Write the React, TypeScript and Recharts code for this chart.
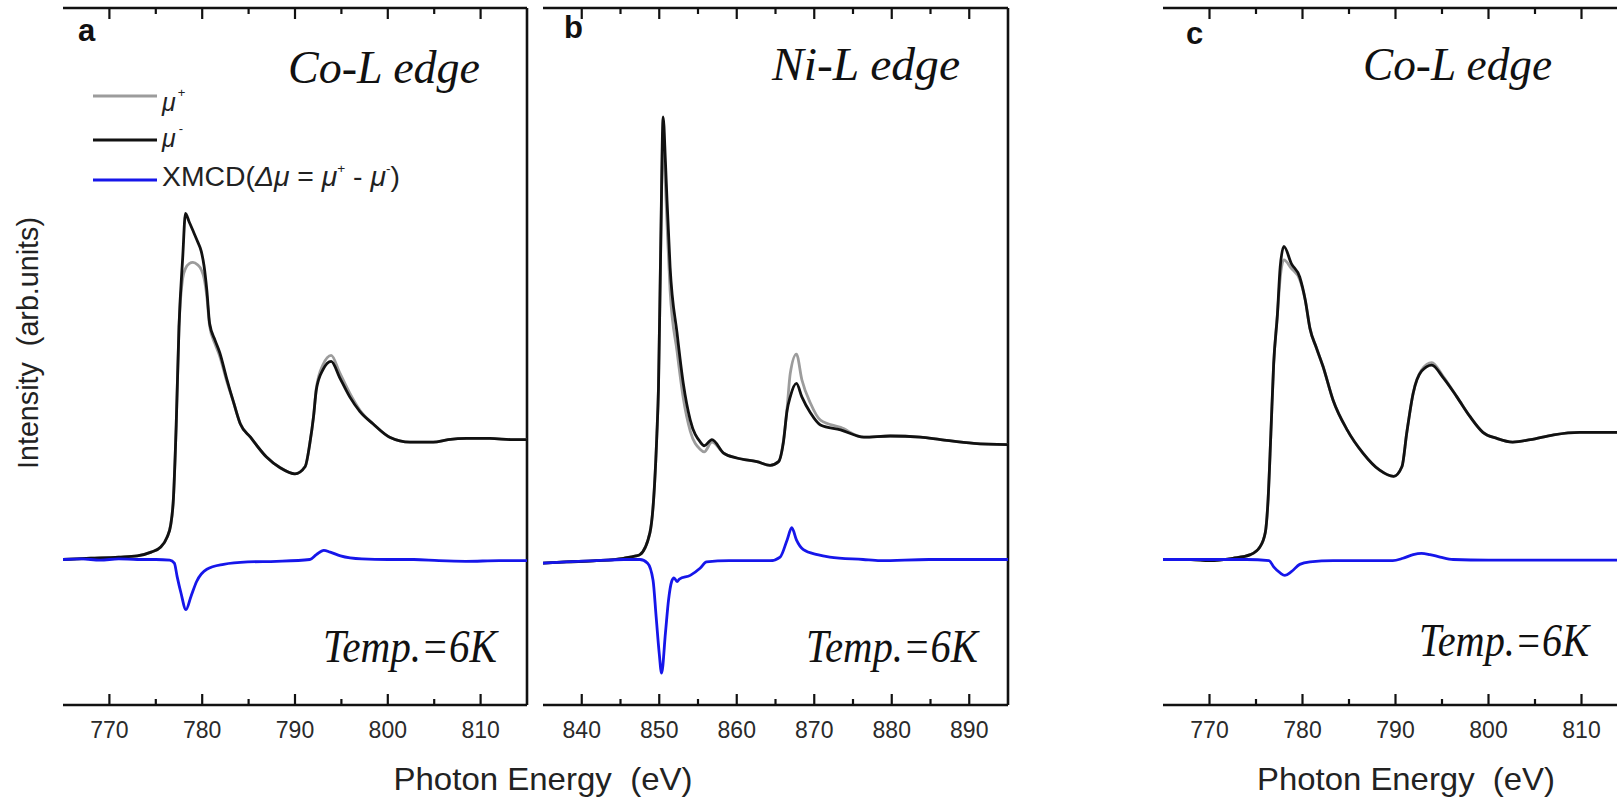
import React from "react";
import { LineChart, Line, XAxis, YAxis, ReferenceLine } from "recharts";

// panel a: Co L-edge, 6 K
const aEnergy = [765, 768, 771, 773, 774.5, 775.5, 776.2, 776.6, 776.9, 777.2, 777.5, 777.9, 778.2, 778.6, 779.0, 779.5, 779.9, 780.2, 780.5, 780.8, 781.4, 781.9, 782.6, 783.4, 784.1, 785.2, 786.9, 788.4, 790.0, 791.1, 791.6, 792.0, 792.3, 793.0, 793.9, 794.8, 795.9, 797.0, 798.4, 800.2, 802.4, 804.9, 806.5, 808.5, 811.0, 813.5, 815];
const aMuMinus = [1.0, 1.01, 1.02, 1.03, 1.06, 1.1, 1.18, 1.28, 1.5, 2.1, 2.9, 3.47, 3.83, 3.76, 3.69, 3.6, 3.52, 3.4, 3.2, 2.93, 2.79, 2.69, 2.49, 2.28, 2.11, 2.0, 1.84, 1.75, 1.7, 1.76, 1.95, 2.17, 2.39, 2.55, 2.62, 2.49, 2.33, 2.21, 2.11, 2.0, 1.96, 1.96, 1.98, 1.99, 1.99, 1.98, 1.98];
const aMuPlus = [1.0, 1.01, 1.02, 1.03, 1.06, 1.1, 1.18, 1.28, 1.5, 2.1, 2.9, 3.3, 3.38, 3.42, 3.43, 3.41, 3.37, 3.3, 3.15, 2.91, 2.76, 2.66, 2.47, 2.28, 2.11, 2.0, 1.84, 1.75, 1.7, 1.76, 1.95, 2.17, 2.4, 2.59, 2.67, 2.53, 2.36, 2.22, 2.11, 2.0, 1.96, 1.96, 1.98, 1.99, 1.99, 1.98, 1.98];
const aXmcdEnergy = [765, 767, 769, 771, 773, 775, 776.5, 777.0, 777.3, 777.7, 778.25, 778.8, 779.4, 780.5, 782.3, 784.9, 788, 791.6, 792.3, 793.1, 793.8, 794.9, 797.2, 800, 802.8, 805.5, 808.4, 812, 815];
const aXmcd = [1.0, 1.005, 0.995, 1.005, 1.0, 1.0, 0.995, 0.97, 0.86, 0.73, 0.59, 0.7, 0.82, 0.92, 0.96, 0.98, 0.985, 1.0, 1.04, 1.075, 1.06, 1.03, 1.005, 1.0, 1.0, 0.99, 0.985, 0.99, 0.99];

// panel b: Ni L-edge, 6 K
const bEnergy = [835, 838, 841.9, 845.4, 847.0, 847.5, 848.8, 849.4, 849.7, 849.9, 850.2, 850.5, 850.8, 851.0, 851.4, 852.3, 853.1, 854.0, 855.3, 855.8, 856.8, 858.3, 860.0, 862.6, 864.3, 865.4, 866.0, 866.5, 866.9, 867.7, 868.4, 869.5, 870.8, 873.4, 876.4, 879.8, 883.7, 886.3, 890.6, 895];
const bMuMinus = [0.97, 0.98, 0.99, 1.01, 1.03, 1.04, 1.22, 1.62, 2.03, 2.4, 3.6, 4.62, 4.25, 3.94, 3.39, 2.85, 2.44, 2.14, 1.96, 1.93, 1.98, 1.87, 1.83, 1.8, 1.77, 1.8, 1.95, 2.22, 2.33, 2.44, 2.33, 2.2, 2.1, 2.06, 2.0, 2.01, 2.0, 1.98, 1.95, 1.94];
const bMuPlus = [0.97, 0.98, 0.99, 1.01, 1.03, 1.04, 1.22, 1.62, 2.03, 2.4, 3.6, 4.5, 4.05, 3.75, 3.2, 2.7, 2.32, 2.05, 1.9, 1.88, 1.96, 1.87, 1.83, 1.8, 1.77, 1.8, 1.96, 2.24, 2.52, 2.68, 2.47, 2.28, 2.14, 2.08, 2.0, 2.01, 2.0, 1.98, 1.95, 1.94];
const bXmcdEnergy = [835, 838, 841.9, 845.4, 847.5, 848.5, 849.2, 849.6, 850.0, 850.3, 850.8, 851.2, 851.6, 851.9, 852.3, 852.6, 854.0, 855.3, 856.1, 859.0, 862, 864.3, 865.6, 866.5, 867.1, 867.7, 868.6, 870.4, 872.0, 876.3, 878.5, 884.8, 889, 895];
const bXmcd = [0.97, 0.98, 0.99, 1.0, 1.0, 0.97, 0.83, 0.53, 0.23, 0.07, 0.4, 0.67, 0.82, 0.85, 0.82, 0.84, 0.87, 0.93, 0.98, 0.99, 0.99, 0.99, 1.02, 1.16, 1.26, 1.16, 1.08, 1.04, 1.02, 1.0, 0.99, 1.0, 1.0, 1.0];

// panel c: Co L-edge, 6 K
const cEnergy = [765, 768, 770, 772.5, 774.4, 775.4, 776.0, 776.3, 776.6, 776.9, 777.3, 777.6, 778.0, 778.8, 779.7, 780.3, 780.8, 781.5, 782.2, 783.3, 784.8, 786.5, 788.3, 789.8, 790.7, 791.2, 791.9, 792.8, 793.9, 795.1, 796.6, 798.0, 799.4, 800.9, 802.6, 804.5, 807.0, 809.8, 811.6, 813.8, 815];
const cMuMinus = [1.0, 1.0, 0.99, 1.01, 1.04, 1.1, 1.22, 1.49, 2.03, 2.6, 3.0, 3.39, 3.56, 3.42, 3.31, 3.12, 2.89, 2.73, 2.58, 2.3, 2.06, 1.87, 1.73, 1.68, 1.76, 2.03, 2.36, 2.54, 2.59, 2.49, 2.33, 2.17, 2.04, 1.99, 1.96, 1.98, 2.02, 2.04, 2.04, 2.04, 2.04];
const cMuPlus = [1.0, 1.0, 0.99, 1.01, 1.04, 1.1, 1.22, 1.49, 2.03, 2.6, 3.0, 3.3, 3.45, 3.38, 3.29, 3.12, 2.89, 2.73, 2.58, 2.3, 2.06, 1.87, 1.73, 1.68, 1.76, 2.03, 2.36, 2.55, 2.61, 2.5, 2.33, 2.17, 2.04, 1.99, 1.96, 1.98, 2.02, 2.04, 2.04, 2.04, 2.04];
const cXmcdEnergy = [765, 770, 774, 776.4, 776.9, 777.6, 778.1, 778.8, 779.7, 780.8, 783.3, 786, 789.7, 790.8, 791.9, 792.8, 793.7, 794.8, 796.2, 800, 805, 810, 815];
const cXmcd = [1.0, 1.0, 1.0, 0.99, 0.94, 0.89, 0.87, 0.9, 0.96, 0.98, 0.99, 0.99, 0.99, 1.01, 1.04, 1.05, 1.04, 1.02, 1.0, 0.995, 0.995, 0.995, 0.995];

const coTicks = [770, 775, 780, 785, 790, 795, 800, 805, 810];
const niTicks = [840, 845, 850, 855, 860, 865, 870, 875, 880, 885, 890];
const yTicks = [0, 1, 2, 3, 4, 5];
const yDomain: [number, number] = [-0.19, 5.51];

const PLOT_TOP = 8;
const PLOT_H = 697;
const AXIS = "#111";
const GRAY = "#9c9c9c";
const BLUE = "#1616ea";
const SANS = "'Liberation Sans', Arial, sans-serif";
const SERIF = "'Liberation Serif', 'Times New Roman', serif";

const zip = (xs: number[], ys: number[]) => xs.map((e, i) => ({ e, v: ys[i] }));

function XTick(props: any) {
  const { x, y, payload } = props;
  const major = payload.value % 10 === 0;
  const len = major ? 11 : 6;
  const top = y - PLOT_H;
  return (
    <g>
      <line x1={x} x2={x} y1={y} y2={y - len} stroke={AXIS} strokeWidth={2.2} />
      <line x1={x} x2={x} y1={top} y2={top + len} stroke={AXIS} strokeWidth={2.2} />
      {major && (
        <text x={x} y={y + 33} textAnchor="middle" fontSize={23} fontFamily={SANS} fill="#2a2a2a">
          {payload.value}
        </text>
      )}
    </g>
  );
}

function YTick(props: any) {
  const { x, y, plotW } = props;
  return (
    <g>
      <line x1={x} x2={x + 11} y1={y} y2={y} stroke={AXIS} strokeWidth={2.2} />
      <line x1={x + plotW} x2={x + plotW - 11} y1={y} y2={y} stroke={AXIS} strokeWidth={2.2} />
    </g>
  );
}

interface PanelProps {
  left: number;
  plotW: number;
  domain: [number, number];
  ticks: number[];
  muPlus: { e: number; v: number }[];
  muMinus: { e: number; v: number }[];
  xmcd: { e: number; v: number }[];
}

function Panel({ left, plotW, domain, ticks, muPlus, muMinus, xmcd }: PanelProps) {
  return (
    <div style={{ position: "absolute", left: left - 10, top: 0 }}>
      <LineChart
        width={plotW + 20}
        height={801}
        margin={{ top: PLOT_TOP, right: 10, bottom: 36, left: 10 }}
      >
        <XAxis
          type="number"
          dataKey="e"
          domain={domain}
          ticks={ticks}
          interval={0}
          allowDataOverflow
          height={60}
          tickSize={0}
          tickMargin={0}
          tickLine={false}
          axisLine={{ stroke: AXIS, strokeWidth: 2.6 }}
          tick={(p: any) => <XTick {...p} />}
        />
        <YAxis
          type="number"
          domain={yDomain}
          ticks={yTicks}
          interval={0}
          allowDataOverflow
          width={0}
          tickSize={0}
          tickMargin={0}
          tickLine={false}
          axisLine={{ stroke: AXIS, strokeWidth: 2.6 }}
          tick={(p: any) => <YTick {...p} plotW={plotW} />}
        />
        <ReferenceLine y={yDomain[1]} stroke={AXIS} strokeWidth={2.6} />
        <ReferenceLine x={domain[1]} stroke={AXIS} strokeWidth={2.6} />
        <Line data={muPlus} dataKey="v" type="monotone" stroke={GRAY} strokeWidth={2.8} dot={false} isAnimationActive={false} />
        <Line data={muMinus} dataKey="v" type="monotone" stroke="#111" strokeWidth={2.8} dot={false} isAnimationActive={false} />
        <Line data={xmcd} dataKey="v" type="monotone" stroke={BLUE} strokeWidth={2.8} dot={false} isAnimationActive={false} />
      </LineChart>
    </div>
  );
}

const pre = { whiteSpace: "pre" as const };

export default function App() {
  return (
    <div
      style={{
        position: "absolute",
        left: 0,
        top: 0,
        width: 1617,
        height: 801,
        overflow: "hidden",
        background: "#fff",
      }}
    >
      <Panel left={63} plotW={464} domain={[765, 815]} ticks={coTicks}
        muPlus={zip(aEnergy, aMuPlus)} muMinus={zip(aEnergy, aMuMinus)} xmcd={zip(aXmcdEnergy, aXmcd)} />
      <Panel left={543} plotW={465} domain={[835, 895]} ticks={niTicks}
        muPlus={zip(bEnergy, bMuPlus)} muMinus={zip(bEnergy, bMuMinus)} xmcd={zip(bXmcdEnergy, bXmcd)} />
      <Panel left={1163} plotW={465} domain={[765, 815]} ticks={coTicks}
        muPlus={zip(cEnergy, cMuPlus)} muMinus={zip(cEnergy, cMuMinus)} xmcd={zip(cXmcdEnergy, cXmcd)} />

      <svg width={1617} height={801} style={{ position: "absolute", left: 0, top: 0, pointerEvents: "none" }}>
        {/* panel letters */}
        <g fontFamily={SANS} fontWeight="bold" fontSize={31} fill="#111">
          <text x={78} y={41}>a</text>
          <text x={564} y={38}>b</text>
          <text x={1186} y={44}>c</text>
        </g>

        {/* edge labels and temperature */}
        <g fontFamily={SERIF} fontStyle="italic" fontSize={47} fill="#111">
          <text x={288} y={83} textLength={192} lengthAdjust="spacingAndGlyphs">Co-L edge</text>
          <text x={772} y={80} textLength={188} lengthAdjust="spacingAndGlyphs">Ni-L edge</text>
          <text x={1363} y={80} textLength={189} lengthAdjust="spacingAndGlyphs">Co-L edge</text>
          <text x={323} y={662} textLength={174} lengthAdjust="spacingAndGlyphs">Temp.=6K</text>
          <text x={806} y={662} textLength={172} lengthAdjust="spacingAndGlyphs">Temp.=6K</text>
          <text x={1419} y={656} textLength={170} lengthAdjust="spacingAndGlyphs">Temp.=6K</text>
        </g>

        {/* legend in panel a */}
        <line x1={93} x2={157} y1={96} y2={96} stroke={GRAY} strokeWidth={3} />
        <line x1={93} x2={157} y1={140} y2={140} stroke="#111" strokeWidth={3} />
        <line x1={93} x2={157} y1={180} y2={180} stroke={BLUE} strokeWidth={3} />
        <g fontFamily={SANS} fill="#222">
          <text x={162} y={111} fontSize={25}>
            <tspan fontStyle="italic">μ</tspan>
            <tspan dx={2} dy={-14} fontSize={13}>+</tspan>
          </text>
          <text x={162} y={147} fontSize={25}>
            <tspan fontStyle="italic">μ</tspan>
            <tspan dx={3} dy={-14} fontSize={13}>-</tspan>
          </text>
          <text x={162} y={186} fontSize={27} textLength={238} lengthAdjust="spacingAndGlyphs" style={pre}>
            <tspan>XMCD(</tspan>
            <tspan fontStyle="italic">Δμ</tspan>
            <tspan style={pre}> = </tspan>
            <tspan fontStyle="italic">μ</tspan>
            <tspan dy={-13} fontSize={13}>+</tspan>
            <tspan dy={13} style={pre}> - </tspan>
            <tspan fontStyle="italic">μ</tspan>
            <tspan dy={-13} fontSize={13}>-</tspan>
            <tspan dy={13}>)</tspan>
          </text>
        </g>

        {/* axis titles */}
        <g fontFamily={SANS} fill="#222">
          <text x={543} y={790} fontSize={32} textAnchor="middle" textLength={299} lengthAdjust="spacingAndGlyphs" style={pre}>
            {"Photon Energy  (eV)"}
          </text>
          <text x={1406} y={790} fontSize={32} textAnchor="middle" textLength={298} lengthAdjust="spacingAndGlyphs" style={pre}>
            {"Photon Energy  (eV)"}
          </text>
          <text transform="translate(38,343) rotate(-90)" fontSize={29} textAnchor="middle" textLength={252} lengthAdjust="spacingAndGlyphs" style={pre}>
            {"Intensity  (arb.units)"}
          </text>
        </g>
      </svg>
    </div>
  );
}
